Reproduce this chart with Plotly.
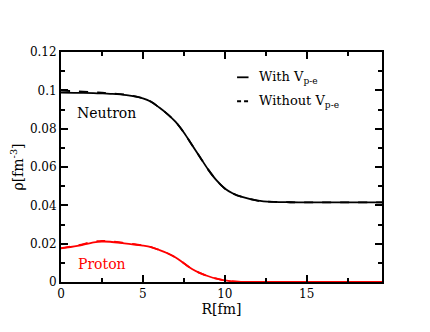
import plotly.graph_objects as go

# radius grid [fm]
r = [0, 1, 2, 2.5, 3, 4, 5, 5.5, 6, 6.5, 7, 7.5, 8, 8.5, 9, 9.5, 10, 10.5, 11, 12, 13, 14, 15, 16, 17, 18, 19, 19.6]

# neutron density [fm^-3]
neutron_with = [0.0988, 0.0987, 0.0985, 0.0984, 0.0982, 0.0975, 0.0958, 0.0940, 0.0910, 0.0876, 0.0835, 0.0780, 0.0715, 0.0650, 0.0585, 0.0530, 0.0488,
                0.0462, 0.0445, 0.0425, 0.0418, 0.0416, 0.0415, 0.0415, 0.0415, 0.0415, 0.0415, 0.0415]
neutron_without = [0.0998, 0.0995, 0.0990, 0.0988, 0.0985, 0.0977, 0.0959, 0.0940, 0.0910, 0.0876, 0.0835, 0.0780, 0.0715, 0.0650, 0.0585, 0.0530, 0.0488,
                   0.0462, 0.0445, 0.0425, 0.0418, 0.0416, 0.0415, 0.0415, 0.0415, 0.0415, 0.0415, 0.0415]

# proton density [fm^-3]
proton_with = [0.0175, 0.0188, 0.0207, 0.0211, 0.0210, 0.0200, 0.0190, 0.0182, 0.0167, 0.0150, 0.0128, 0.0098, 0.0068, 0.0046, 0.0030, 0.0017, 0.0008,
               0.0003, 0.0001, 0, 0, 0, 0, 0, 0, 0, 0, 0]
proton_without = [0.0177, 0.0191, 0.0211, 0.0215, 0.0213, 0.0202, 0.0191, 0.0182, 0.0167, 0.0150, 0.0128, 0.0098, 0.0068, 0.0046, 0.0030, 0.0017, 0.0008,
                  0.0003, 0.0001, 0, 0, 0, 0, 0, 0, 0, 0, 0]

legend_labels = ["With V<sub>p-e</sub>", "Without V<sub>p-e</sub>"]
FONT = "DejaVu Serif"  # only serif face the renderer actually resolves

fig = go.Figure()
for y, color, dash in [(neutron_without, "black", "dash"), (neutron_with, "black", "solid"),
                       (proton_without, "red", "dash"), (proton_with, "red", "solid")]:
    fig.add_trace(go.Scatter(x=r, y=y, mode="lines", line=dict(color=color, width=1.8, dash=dash, shape="spline"),
                             showlegend=False))

# hand-made legend (short line samples like the original)
for i, (lab, dash) in enumerate(zip(legend_labels, ["solid", "dash"])):
    yy = 0.1068 - i * 0.0125
    fig.add_shape(type="line", xref="x", yref="y", x0=10.75, x1=11.45, y0=yy, y1=yy,
                  line=dict(color="black", width=1.8, dash="4px,3px" if dash == "dash" else "solid"))
    fig.add_annotation(x=11.95, y=yy, xref="x", yref="y", text=lab, showarrow=False, xanchor="left",
                       font=dict(family=FONT, size=13, color="black"))

fig.add_annotation(x=2.77, y=0.0882, text="Neutron", showarrow=False, font=dict(family=FONT, size=14, color="black"))
fig.add_annotation(x=2.5, y=0.0096, text="Proton", showarrow=False, font=dict(family=FONT, size=14, color="red"))

axis_common = dict(showline=True, linecolor="black", linewidth=2, mirror="allticks", ticks="inside",
                   ticklen=7, tickwidth=2, tickcolor="black", showgrid=False, zeroline=False,
                   tickfont=dict(family=FONT, size=12, color="black"))
fig.update_xaxes(range=[0, 19.6], dtick=5, tick0=0,
                 minor=dict(dtick=2.5, ticks="inside", ticklen=4, tickwidth=1.5, tickcolor="black"),
                 title=dict(text="R[fm]", font=dict(family=FONT, size=14, color="black"), standoff=3), **axis_common)
fig.update_yaxes(range=[0, 0.12], dtick=0.02, tick0=0,
                 minor=dict(dtick=0.01, ticks="inside", ticklen=4, tickwidth=1.5, tickcolor="black"),
                 title=dict(text="ρ[fm<sup>-3</sup>]", font=dict(family=FONT, size=14, color="black"), standoff=6), **axis_common)

# page body adds ~8px offset, so margins are shifted to keep the plot where the original has it
fig.update_layout(width=430, height=332, margin=dict(l=53, r=56, t=44, b=58, autoexpand=False),
                  font=dict(family=FONT), plot_bgcolor="white", paper_bgcolor="white", showlegend=False)

fig.write_html("out.html")
